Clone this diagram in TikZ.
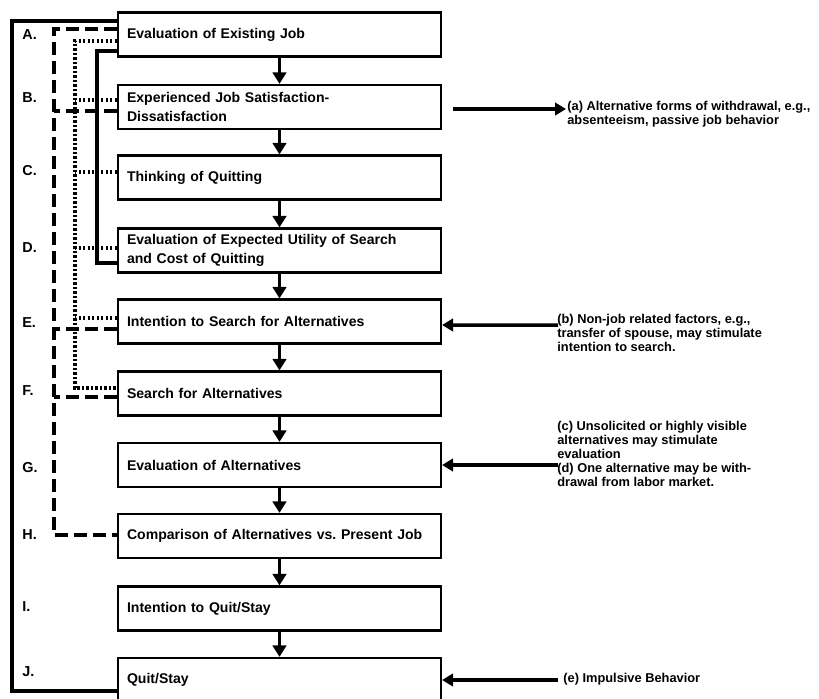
\documentclass[tikz,border=0pt]{standalone}
\usepackage{fontspec}
\setmainfont{Liberation Sans}
\usepackage{tikz}
\usetikzlibrary{calc, arrows.meta}
\frenchspacing
\tikzstyle{stage}     = [draw, line width=0.045cm, minimum width=6.46cm, minimum height=0.88cm,
                         text width=6.1cm, inner xsep=0.18cm, inner ysep=0pt, align=left,
                         font=\fontsize{8}{11}\selectfont\bfseries]
\tikzstyle{rowlab}    = [anchor=west, inner sep=0pt, font=\fontsize{8.2}{10}\selectfont\bfseries]
\tikzstyle{note}      = [anchor=west, align=left, inner sep=0pt, font=\fontsize{7.3}{8}\selectfont\bfseries]
\tikzstyle{flow}      = [line width=0.065cm, -{Triangle[width=0.27cm,length=0.23cm]}]
\tikzstyle{side}      = [line width=0.07cm, -{Triangle[width=0.25cm,length=0.22cm]}]
\tikzstyle{loopsolid} = [line width=0.065cm]
\tikzstyle{loopdash}  = [line width=0.065cm, dash pattern=on 0.26cm off 0.12cm]
\tikzstyle{loopdot}   = [line width=0.065cm, dash pattern=on 0.045cm off 0.045cm]

\begin{document}
\begin{tikzpicture}[x=0.02cm, y=-0.02cm]
  \useasboundingbox (0,0) rectangle (819,698);

  %the stages, top to bottom
  \foreach \i/\y/\txt in {1/34.5/{Evaluation of Existing Job},
                          2/107/{Experienced Job Satisfaction-\\Dissatisfaction},
                          3/177.5/{Thinking of Quitting},
                          4/250.5/{Evaluation of Expected Utility of Search\\and Cost of Quitting},
                          5/321.5/{Intention to Search for Alternatives},
                          6/393.5/{Search for Alternatives},
                          7/465/{Evaluation of Alternatives},
                          8/536/{Comparison of Alternatives vs. Present Job},
                          9/608.5/{Intention to Quit/Stay},
                          10/680/{Quit/Stay}}{
    \node[stage] (s\i) at (279.5,\y) {\txt};
  }
  \foreach \i[count=\j from 2] in {1,...,9}{
    \draw[flow] (s\i) -- (s\j);
  }

  %letters on the left
  \foreach \l/\y in {A/35, B/98, C/171, D/248, E/323, F/391, G/468, H/535, I/607, J/672}{
    \node[rowlab] (lab\l) at (22,\y) {\l.};
  }

  %feedback loops
  \draw[loopsolid] ($(s10.west)+(0,11)$) -- ++(-105,0) |- ($(s1.west)+(0,-13.5)$);
  \draw[loopdash] ($(s1.west)+(0,-5.5)$) -- ++(-63,0) |- ($(s8.west)+(0,-1)$);
  \foreach \s/\d in {2/4, 5/7.5, 6/3.5}{
    \draw[loopdash] ($(s\s.west)+(0,\d)$) -- ++(-63,0);
  }
  \draw[loopdot] ($(s1.west)+(0,6.5)$) -- ++(-42,0) |- ($(s6.west)+(0,-5.5)$);
  \foreach \s/\d in {2/-7, 3/-5.5, 4/-2.5, 5/-3.5}{
    \draw[loopdot] ($(s\s.west)+(0,\d)$) -- ++(-42,0);
  }
  \draw[loopsolid] ($(s1.west)+(0,16.5)$) -- ++(-20,0) |- ($(s4.west)+(0,12.5)$);

  %notes on the right
  \node[note] (na) at (567,114) {(a) Alternative forms of withdrawal, e.g.,\\absenteeism, passive job behavior};
  \node[note] (nb) at (557,333) {(b) Non-job related factors, e.g.,\\transfer of spouse, may stimulate\\intention to search.};
  \node[note] (nc) at (557,454) {(c) Unsolicited or highly visible\\alternatives may stimulate\\evaluation\\(d) One alternative may be with-\\drawal from labor market.};
  \node[note] (ne) at (563,679) {(e) Impulsive Behavior};

  \draw[side] ($(s2.east)+(11,2)$) -- ($(na.west)+(-1,-5)$);
  \draw[side] ($(nb.west)+(1,-8)$) -- ($(s5.east)+(0,3.5)$);
  \draw[side] ($(nc.west)+(1,11)$) -- (s7.east);
  \draw[side] ($(ne.west)+(-5,1)$) -- (s10.east);
\end{tikzpicture}
\end{document}
